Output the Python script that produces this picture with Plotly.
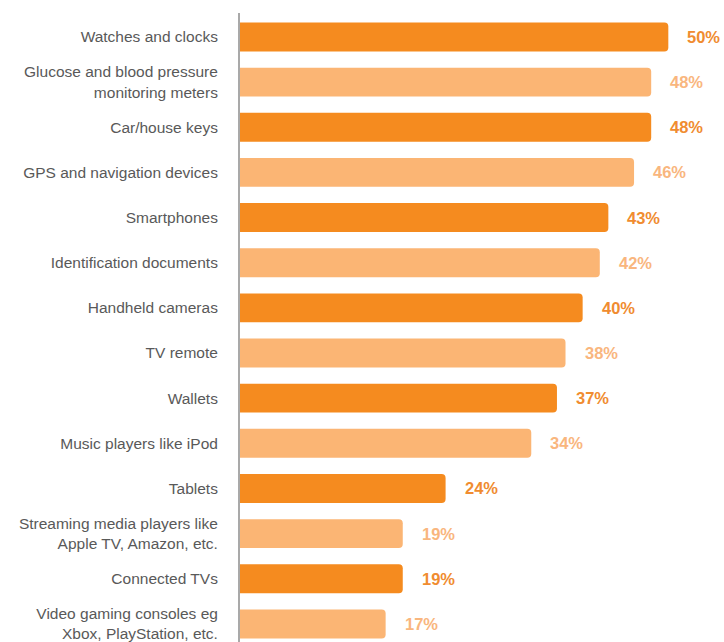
import plotly.graph_objects as go

# Share of respondents interested in each connected-device category
categories = [
    "Watches and clocks",
    "Glucose and blood pressure<br>monitoring meters",
    "Car/house keys",
    "GPS and navigation devices",
    "Smartphones",
    "Identification documents",
    "Handheld cameras",
    "TV remote",
    "Wallets",
    "Music players like iPod",
    "Tablets",
    "Streaming media players like<br>Apple TV, Amazon, etc.",
    "Connected TVs",
    "Video gaming consoles eg<br>Xbox, PlayStation, etc.",
]
values = [50, 48, 48, 46, 43, 42, 40, 38, 37, 34, 24, 19, 19, 17]

DARK = "#F58B1F"
LIGHT = "#FBB574"
DARK_TEXT = "#F08C30"
LIGHT_TEXT = "#F9B67E"

bar_colors = [DARK if i % 2 == 0 else LIGHT for i in range(len(values))]
text_colors = [DARK_TEXT if i % 2 == 0 else LIGHT_TEXT for i in range(len(values))]

fig = go.Figure(
    go.Bar(
        x=values,
        y=categories,
        orientation="h",
        marker=dict(color=bar_colors, line=dict(width=0)),
        hoverinfo="skip",
    )
)

for cat, val, col in zip(categories, values, text_colors):
    fig.add_annotation(
        x=val,
        y=cat,
        text=f"<b>{val}%</b>",
        showarrow=False,
        xanchor="left",
        yanchor="middle",
        xshift=17,
        font=dict(family="Liberation Sans, Arial, sans-serif", size=16.5, color=col),
    )

fig.update_layout(
    width=724,
    height=642,
    margin=dict(l=240, r=0, t=13, b=0),
    paper_bgcolor="white",
    plot_bgcolor="white",
    bargap=0.36,
    barcornerradius=4,
    showlegend=False,
    xaxis=dict(
        range=[0, 56.5],
        showgrid=False,
        zeroline=False,
        showticklabels=False,
        showline=False,
        fixedrange=True,
    ),
    yaxis=dict(
        categoryorder="array",
        categoryarray=categories,
        range=[13.4, -0.53],
        showgrid=False,
        zeroline=False,
        showline=True,
        linecolor="#A9A9A9",
        linewidth=2,
        ticks="",
        ticklabelstandoff=17,
        tickfont=dict(family="Liberation Sans, Arial, sans-serif", size=15.5, color="#595959"),
        fixedrange=True,
    ),
)

fig.write_html("out.html")
